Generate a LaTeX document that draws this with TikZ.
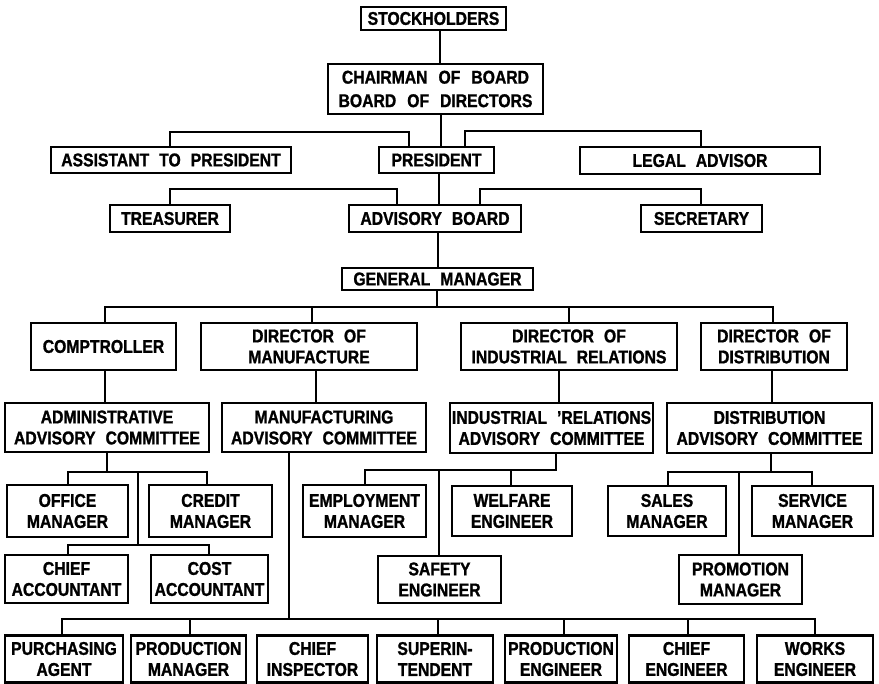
\documentclass[tikz,border=0pt]{standalone}
\usepackage{fontspec}
\setmainfont[FakeStretch=0.85,BoldFeatures={FakeBold=1.2}]{Liberation Sans}
\tikzset{
  box/.style={draw, line width=2.2pt, inner sep=0pt, align=center,
    font={\bfseries\fontsize{18.5}{21}\selectfont\spaceskip=10pt plus 2pt minus 3pt}},
  conn/.style={line width=1.6pt}
}
\begin{document}
\begin{tikzpicture}[x=1pt,y=-1pt]
\useasboundingbox (0,0) rectangle (879,684);
% boxes
\node[box,minimum width=145pt,minimum height=23pt] (stock) at (433.5,18.5) {STOCKHOLDERS};
\node[box,minimum width=215pt,minimum height=50pt,font={\bfseries\fontsize{18.5}{23.5}\selectfont\spaceskip=11pt plus 2pt minus 3pt}] (chair) at (435.5,89) {CHAIRMAN OF BOARD\\BOARD OF DIRECTORS};
\node[box,minimum width=240pt,minimum height=26pt] (asst) at (171,160) {ASSISTANT TO PRESIDENT};
\node[box,minimum width=115pt,minimum height=26pt] (pres) at (436.5,160) {PRESIDENT};
\node[box,minimum width=240pt,minimum height=27pt] (legal) at (700,160.5) {LEGAL ADVISOR};
\node[box,minimum width=120pt,minimum height=27pt] (treas) at (170,218.5) {TREASURER};
\node[box,minimum width=172pt,minimum height=27pt] (adv) at (435,218.5) {ADVISORY BOARD};
\node[box,minimum width=121pt,minimum height=27pt] (sec) at (701.5,218.5) {SECRETARY};
\node[box,minimum width=191pt,minimum height=22pt] (gm) at (437.5,279) {GENERAL MANAGER};
\node[box,minimum width=145pt,minimum height=47pt] (comp) at (103.5,346.5) {COMPTROLLER};
\node[box,minimum width=216pt,minimum height=47pt] (dman) at (309,346.5) {DIRECTOR OF\\MANUFACTURE};
\node[box,minimum width=216pt,minimum height=47pt] (dir) at (569,346.5) {DIRECTOR OF\\INDUSTRIAL RELATIONS};
\node[box,minimum width=146pt,minimum height=47pt] (ddist) at (774,346.5) {DIRECTOR OF\\DISTRIBUTION};
\node[box,minimum width=204pt,minimum height=49pt] (admin) at (107,427.5) {ADMINISTRATIVE\\ADVISORY COMMITTEE};
\node[box,minimum width=204pt,minimum height=49pt] (manuf) at (324,427.5) {MANUFACTURING\\ADVISORY COMMITTEE};
\node[box,minimum width=203pt,minimum height=50pt] (irac) at (551.5,428) {INDUSTRIAL 'RELATIONS\\ADVISORY COMMITTEE};
\node[box,minimum width=205pt,minimum height=50pt] (dac) at (769.5,428) {DISTRIBUTION\\ADVISORY COMMITTEE};
\node[box,minimum width=121pt,minimum height=52pt] (office) at (67.5,511) {OFFICE\\MANAGER};
\node[box,minimum width=123pt,minimum height=52pt] (credit) at (210.5,511) {CREDIT\\MANAGER};
\node[box,minimum width=123pt,minimum height=52pt] (employ) at (364.5,511) {EMPLOYMENT\\MANAGER};
\node[box,minimum width=120pt,minimum height=50pt] (welfare) at (512,511) {WELFARE\\ENGINEER};
\node[box,minimum width=118pt,minimum height=50pt] (sales) at (667,511) {SALES\\MANAGER};
\node[box,minimum width=121pt,minimum height=50pt] (service) at (812.5,511) {SERVICE\\MANAGER};
\node[box,minimum width=123pt,minimum height=48pt] (chiefacc) at (66.5,579) {CHIEF\\ACCOUNTANT};
\node[box,minimum width=117pt,minimum height=48pt] (costacc) at (209.5,579) {COST\\ACCOUNTANT};
\node[box,minimum width=123pt,minimum height=47pt] (safety) at (439.5,579.5) {SAFETY\\ENGINEER};
\node[box,minimum width=123pt,minimum height=49pt] (promo) at (740.5,579.5) {PROMOTION\\MANAGER};
\node[box,minimum width=118pt,minimum height=47pt] (purch) at (64,659) {PURCHASING\\AGENT};
\node[box,minimum width=115pt,minimum height=47pt] (prodman) at (188.5,659) {PRODUCTION\\MANAGER};
\node[box,minimum width=111pt,minimum height=47pt] (chiefinsp) at (312.5,659) {CHIEF\\INSPECTOR};
\node[box,minimum width=116pt,minimum height=47pt] (super) at (435,659) {SUPERIN-\\TENDENT};
\node[box,minimum width=112pt,minimum height=47pt] (prodeng) at (561,659) {PRODUCTION\\ENGINEER};
\node[box,minimum width=115pt,minimum height=47pt] (chiefeng) at (686.5,659) {CHIEF\\ENGINEER};
\node[box,minimum width=116pt,minimum height=47pt] (works) at (815,659) {WORKS\\ENGINEER};
% bus coordinates
\coordinate (pL) at (170,132); \coordinate (pR) at (701,131);
\coordinate (vL) at (170,189); \coordinate (vR) at (701,189);
\coordinate (gL) at (105,307); \coordinate (gR) at (773,307);
\coordinate (aL) at (68,472);  \coordinate (aR) at (207,472);
\coordinate (bL) at (68,545);  \coordinate (bR) at (209,545);
\coordinate (iL) at (365,470); \coordinate (iR) at (556,470);
\coordinate (dL) at (668,472); \coordinate (dR) at (812,472);
\coordinate (mL) at (62,619);  \coordinate (mR) at (815,619);
% connectors
\draw[conn] (stock.south -| 440,0) -- (chair.north -| 440,0);
\draw[conn] (chair.south -| 441,0) -- (pres.north -| 441,0);
\draw[conn] (pres.north -| 409,0) |- (pL) -- (asst.north -| pL);
\draw[conn] (pres.north -| 465,0) |- (pR) -- (legal.north -| pR);
\draw[conn] (pres.south -| 439,0) -- (adv.north -| 439,0);
\draw[conn] (adv.north -| 397,0) |- (vL) -- (treas.north -| vL);
\draw[conn] (adv.north -| 480,0) |- (vR) -- (sec.north -| vR);
\draw[conn] (adv.south -| 438,0) -- (gm.north -| 438,0);
\draw[conn] (gm.south -| 437,0) -- (gL -| 437,0);
\draw[conn] (comp.north -| gL) |- (gR) -- (ddist.north -| gR);
\draw[conn] (dman.north -| 312,0) -- (gL -| 312,0);
\draw[conn] (dir.north -| 569,0) -- (gL -| 569,0);
\draw[conn] (comp.south -| 105,0) -- (admin.north -| 105,0);
\draw[conn] (dman.south -| 316,0) -- (manuf.north -| 316,0);
\draw[conn] (dir.south -| 559,0) -- (irac.north -| 559,0);
\draw[conn] (ddist.south -| 772,0) -- (dac.north -| 772,0);
% administrative
\draw[conn] (admin.south -| 107,0) -- (aL -| 107,0);
\draw[conn] (office.north -| aL) |- (aR) -- (credit.north -| aR);
\draw[conn] (aL -| 138,0) -- (bL -| 138,0);
\draw[conn] (chiefacc.north -| bL) |- (bR) -- (costacc.north -| bR);
% industrial relations
\draw[conn] (irac.south -| iR) -- (iR) -- (iL) -- (employ.north -| iL);
\draw[conn] (welfare.north -| 511,0) -- (iL -| 511,0);
\draw[conn] (safety.north -| 439,0) -- (iL -| 439,0);
% distribution
\draw[conn] (dac.south -| 771,0) -- (dL -| 771,0);
\draw[conn] (sales.north -| dL) |- (dR) -- (service.north -| dR);
\draw[conn] (promo.north -| 739,0) -- (dL -| 739,0);
% manufacturing
\draw[conn] (manuf.south -| 289,0) -- (mL -| 289,0);
\draw[conn] (purch.north -| mL) |- (mR) -- (works.north -| mR);
\draw[conn] (prodman.north -| 190,0) -- (mL -| 190,0);
\draw[conn] (super.north -| 438,0) -- (mL -| 438,0);
\draw[conn] (prodeng.north -| 564,0) -- (mL -| 564,0);
\draw[conn] (chiefeng.north -| 688,0) -- (mL -| 688,0);
\end{tikzpicture}
\end{document}
